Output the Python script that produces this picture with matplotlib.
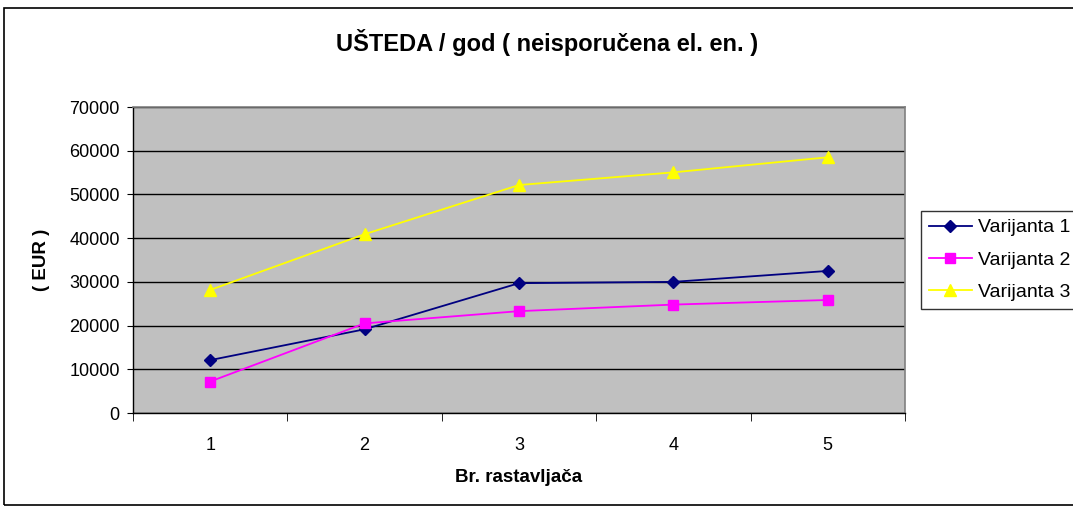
import matplotlib
matplotlib.use("Agg")
import matplotlib.pyplot as plt
from matplotlib.patches import Rectangle

plt.rcParams['font.family'] = ['Liberation Sans', 'DejaVu Sans']

categories = [1, 2, 3, 4, 5]
varijanta1 = [12100, 19150, 29700, 30000, 32500]
varijanta2 = [7200, 20500, 23300, 24800, 25850]
varijanta3 = [28150, 40900, 52150, 55050, 58500]
series_names = ['Varijanta 1', 'Varijanta 2', 'Varijanta 3']
y_ticks = [0, 10000, 20000, 30000, 40000, 50000, 60000, 70000]

W, H = 1073, 508
fig = plt.figure(figsize=(W / 100, H / 100), dpi=100)
fig.patch.set_facecolor('white')
fig.patches.append(Rectangle((4 / W, 3 / H), 1.2, (505 - 8) / H, transform=fig.transFigure,
                             fill=False, edgecolor='black', linewidth=1.2))

ax_l, ax_r, ax_t, ax_b = 133, 905, 107, 413
ax = fig.add_axes([ax_l / W, 1 - ax_b / H, (ax_r - ax_l) / W, (ax_b - ax_t) / H])
ax.set_facecolor('#c0c0c0')

ax.plot(categories, varijanta1, color='#000080', marker='D', markersize=6, linewidth=1.3, label=series_names[0], zorder=3)
ax.plot(categories, varijanta2, color='#ff00ff', marker='s', markersize=7, linewidth=1.3, label=series_names[1], zorder=3)
ax.plot(categories, varijanta3, color='#ffff00', marker='^', markersize=8, linewidth=1.3, label=series_names[2], zorder=3)

ax.set_xlim(0.5, 5.5)
ax.set_ylim(0, 70000)
ax.set_yticks(y_ticks)
ax.set_yticklabels([str(v) for v in y_ticks], fontsize=13)
ax.set_xticks(categories)
ax.set_xticklabels([str(c) for c in categories], fontsize=13)
ax.set_xticks([0.5, 1.5, 2.5, 3.5, 4.5, 5.5], minor=True)
ax.tick_params(axis='x', which='major', length=0, pad=17)
ax.tick_params(axis='x', which='minor', length=6, direction='out', color='black')
ax.tick_params(axis='y', length=4.5, direction='out', pad=5)
ax.grid(axis='y', color='black', linewidth=1.0, zorder=1)
ax.set_axisbelow(True)

for s in ['top', 'right']:
    ax.spines[s].set_color('#808080')
    ax.spines[s].set_linewidth(1.2)
for s in ['left', 'bottom']:
    ax.spines[s].set_color('black')
    ax.spines[s].set_linewidth(1.0)

ax.set_xlabel('Br. rastavljača', fontsize=13.5, fontweight='bold', va='center')
ax.xaxis.set_label_coords(0.5, (ax_b - 478) / (ax_b - ax_t))
ax.set_ylabel('( EUR )', fontsize=13.5, fontweight='bold', va='center')
ax.yaxis.set_label_coords((42 - ax_l) / (ax_r - ax_l), 0.5)
fig.text(547 / W, 1 - 42 / H, 'UŠTEDA / god ( neisporučena el. en. )',
         fontsize=17, fontweight='bold', ha='center', va='center')

leg = fig.legend(loc='upper left', bbox_to_anchor=(921 / W, 1 - 211 / H), fontsize=14,
                 frameon=True, fancybox=False, edgecolor='black', handlelength=2.2,
                 borderpad=0.4, labelspacing=0.75, handletextpad=0.35, borderaxespad=0)
leg.get_frame().set_linewidth(1.0)

fig.savefig('out.png', dpi=100)
